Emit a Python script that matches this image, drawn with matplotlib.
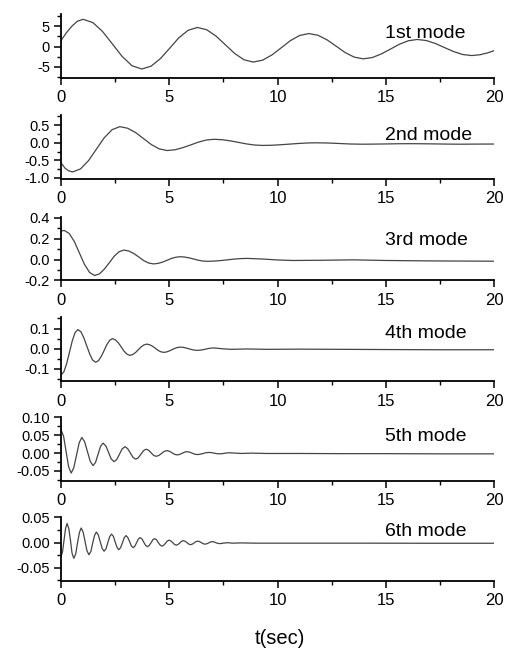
import matplotlib
matplotlib.use("Agg")
import matplotlib.pyplot as plt
from matplotlib.ticker import MultipleLocator, FixedLocator, FixedFormatter

plt.rcParams['font.family'] = ['Liberation Sans', 'DejaVu Sans']

# ---------------- data ----------------
mode_labels = ["1st mode", "2nd mode", "3rd mode", "4th mode", "5th mode", "6th mode"]

t1 = [0, 0.25, 0.5, 0.75, 1.02, 1.47, 1.92, 2.38, 2.83, 3.28, 3.73, 4.16, 4.59, 5.02, 5.44, 5.87, 6.30,
      6.73, 7.16, 7.59, 8.02, 8.45, 8.88, 9.31, 9.74, 10.17, 10.59, 11.02, 11.45, 11.87, 12.29, 12.71,
      13.12, 13.54, 13.96, 14.38, 14.79, 15.21, 15.62, 16.04, 16.45, 16.87, 17.29, 17.71, 18.13, 18.55,
      18.97, 19.35, 19.7, 20.0]
y1 = [1.5, 3.4, 5.0, 6.2, 6.7, 5.9, 3.7, 0.6, -2.45, -4.7, -5.5, -4.8, -2.95, -0.4, 2.15, 4.0, 4.7,
      4.13, 2.58, 0.45, -1.68, -3.23, -3.8, -3.33, -2.05, -0.3, 1.45, 2.73, 3.2, 2.78, 1.65, 0.1,
      -1.45, -2.58, -3.0, -2.68, -1.81, -0.63, 0.56, 1.43, 1.75, 1.49, 0.76, -0.23, -1.21, -1.94,
      -2.2, -2.0, -1.55, -1.0]

t2 = [0, 0.18, 0.36, 0.54, 0.90, 1.27, 1.63, 1.99, 2.36, 2.72, 3.08, 3.45, 3.81, 4.17, 4.54, 4.90,
      5.26, 5.62, 5.99, 6.35, 6.71, 7.07, 7.44, 7.81, 8.19, 8.56, 8.93, 9.30, 9.72, 10.13, 10.55,
      10.97, 11.38, 11.80, 12.35, 12.85, 13.35, 13.9, 14.5, 15.05, 15.6, 16.2, 16.75, 17.3, 17.85,
      18.4, 19.2, 20.0]
y2 = [-0.57, -0.72, -0.80, -0.83, -0.744, -0.508, -0.185, 0.138, 0.374, 0.46, 0.414, 0.29, 0.12,
      -0.05, -0.174, -0.22, -0.199, -0.14, -0.06, 0.02, 0.079, 0.10, 0.088, 0.056, 0.0125, -0.031,
      -0.063, -0.075, -0.07, -0.056, -0.0375, -0.019, -0.005, 0.0, -0.006, -0.02, -0.034, -0.04,
      -0.037, -0.032, -0.027, -0.025, -0.028, -0.032, -0.037, -0.04, -0.037, -0.035]

t3 = [0, 0.15, 0.38, 0.62, 0.85, 1.08, 1.32, 1.55, 1.78, 2.00, 2.23, 2.45, 2.68, 2.90, 3.13, 3.36,
      3.59, 3.81, 4.04, 4.27, 4.48, 4.68, 4.89, 5.09, 5.30, 5.50, 5.71, 5.92, 6.13, 6.33, 6.54, 6.75,
      7.06, 7.37, 7.68, 7.98, 8.29, 8.60, 9.3, 10.0, 10.7, 12.0, 13.5, 15.0, 17.0, 20.0]
y3 = [0.275, 0.28, 0.251, 0.172, 0.064, -0.044, -0.123, -0.152, -0.136, -0.091, -0.03, 0.031, 0.076,
      0.092, 0.083, 0.059, 0.026, -0.008, -0.032, -0.041, -0.036, -0.024, -0.007, 0.011, 0.023,
      0.028, 0.025, 0.017, 0.006, -0.005, -0.013, -0.016, -0.014, -0.009, -0.002, 0.005, 0.010,
      0.012, 0.006, -0.003, -0.008, -0.006, -0.002, -0.008, -0.012, -0.015]

t4 = [0, 0.13, 0.26, 0.39, 0.52, 0.65, 0.78, 0.92, 1.05, 1.19, 1.33, 1.46, 1.60, 1.73, 1.86, 1.99,
      2.12, 2.25, 2.38, 2.51, 2.65, 2.78, 2.91, 3.05, 3.18, 3.31, 3.44, 3.57, 3.70, 3.83, 3.96, 4.09,
      4.22, 4.35, 4.48, 4.61, 4.74, 4.87, 4.99, 5.12, 5.25, 5.37, 5.50, 5.63, 5.77, 5.90, 6.03, 6.17,
      6.30, 6.43, 6.55, 6.68, 6.80, 6.93, 7.05, 7.45, 7.85, 8.6, 9.5, 11.0, 13.0, 15.0, 17.5, 20.0]
y4 = [-0.13, -0.115, -0.074, -0.018, 0.039, 0.080, 0.095, 0.084, 0.055, 0.014, -0.027, -0.056,
      -0.067, -0.059, -0.038, -0.009, 0.021, 0.042, 0.050, 0.044, 0.029, 0.009, -0.012, -0.027,
      -0.033, -0.029, -0.019, -0.005, 0.009, 0.019, 0.023, 0.020, 0.013, 0.003, -0.008, -0.015,
      -0.018, -0.016, -0.0115, -0.005, 0.0015, 0.006, 0.008, 0.007, 0.004, 0.0, -0.004, -0.007,
      -0.008, -0.007, -0.005, -0.002, 0.001, 0.003, 0.004, 0.0, -0.003, -0.001, -0.003, -0.002,
      -0.003, -0.004, -0.005, -0.005]

t5 = [0, 0.12, 0.235, 0.35, 0.47, 0.59, 0.715, 0.84, 0.96, 1.09, 1.22, 1.35, 1.48, 1.595, 1.71,
      1.825, 1.94, 2.07, 2.195, 2.32, 2.45, 2.575, 2.70, 2.825, 2.95, 3.075, 3.20, 3.325, 3.45, 3.57,
      3.69, 3.81, 3.93, 4.045, 4.16, 4.275, 4.39, 4.515, 4.64, 4.765, 4.89, 5.01, 5.125, 5.24, 5.36,
      5.475, 5.59, 5.705, 5.82, 5.94, 6.055, 6.17, 6.29, 6.425, 6.56, 6.695, 6.83, 6.95, 7.065, 7.18,
      7.3, 7.425, 7.55, 7.675, 7.8, 8.3, 8.8, 9.5, 11.0, 13.0, 15.0, 17.5, 20.0]
y5 = [0.065, 0.047, 0.0045, -0.038, -0.056, -0.041, -0.006, 0.029, 0.044, 0.032, 0.0045, -0.023,
      -0.035, -0.026, -0.0035, 0.019, 0.028, 0.0204, 0.002, -0.0164, -0.024, -0.0178, -0.003, 0.0118,
      0.018, 0.0129, 0.0005, -0.0119, -0.017, -0.0129, -0.003, 0.0069, 0.011, 0.0081, 0.001, -0.0061,
      -0.009, -0.0067, -0.001, 0.0047, 0.007, 0.0052, 0.001, -0.0032, -0.005, -0.0037, -0.0005,
      0.0027, 0.004, 0.0028, 0.0, -0.0028, -0.004, -0.0031, -0.001, 0.0011, 0.002, 0.0014, 0.0,
      -0.0014, -0.002, -0.0016, -0.0005, 0.0006, 0.001, -0.001, 0.0, -0.001, -0.001, -0.0015,
      -0.0015, -0.002, -0.002]

t6 = [0, 0.07, 0.14, 0.21, 0.28, 0.36, 0.44, 0.51, 0.59, 0.68, 0.76, 0.85, 0.93, 1.02, 1.11, 1.20,
      1.29, 1.38, 1.46, 1.55, 1.63, 1.72, 1.81, 1.90, 1.99, 2.08, 2.16, 2.25, 2.33, 2.42, 2.50, 2.59,
      2.67, 2.75, 2.84, 2.92, 3.00, 3.08, 3.17, 3.25, 3.33, 3.41, 3.49, 3.57, 3.65, 3.74, 3.82, 3.91,
      3.99, 4.07, 4.16, 4.24, 4.32, 4.41, 4.49, 4.58, 4.66, 4.74, 4.83, 4.91, 4.99, 5.07, 5.16, 5.24,
      5.32, 5.40, 5.49, 5.57, 5.65, 5.73, 5.82, 5.90, 5.98, 6.06, 6.15, 6.23, 6.31, 6.40, 6.48, 6.57,
      6.65, 6.73, 6.82, 6.90, 6.98, 7.07, 7.15, 7.24, 7.32, 7.5, 7.7, 7.9, 8.3, 9.0, 11.0, 14.0,
      17.0, 20.0]
y6 = [-0.028, -0.018, 0.005, 0.028, 0.038, 0.028, 0.0035, -0.021, -0.031, -0.0222, -0.001, 0.0202,
      0.029, 0.0212, 0.0025, -0.0162, -0.024, -0.0174, -0.0015, 0.0144, 0.021, 0.0154, 0.002,
      -0.0114, -0.017, -0.012, 0.0, 0.012, 0.017, 0.0125, 0.0015, -0.0095, -0.014, -0.0099, 0.0,
      0.0099, 0.014, 0.0105, 0.002, -0.0065, -0.010, -0.0071, 0.0, 0.0071, 0.010, 0.0074, 0.001,
      -0.0054, -0.008, -0.0057, 0.0, 0.0057, 0.008, 0.0058, 0.0005, -0.0048, -0.007, -0.0052, -0.001,
      0.0032, 0.005, 0.0035, 0.0, -0.0035, -0.005, -0.0037, -0.0005, 0.0027, 0.004, 0.0028, 0.0,
      -0.0028, -0.004, -0.003, -0.0005, 0.002, 0.003, 0.0021, 0.0, -0.0021, -0.003, -0.0023, -0.0005,
      0.0013, 0.002, 0.0014, 0.0, -0.0014, -0.002, -0.001, 0.0, -0.001, -0.0005, -0.001, -0.001,
      -0.001, -0.0012, -0.0012]

times = [t1, t2, t3, t4, t5, t6]
values = [y1, y2, y3, y4, y5, y6]

x_ticks = [0, 5, 10, 15, 20]
y_ticks = [[-5, 0, 5], [-1.0, -0.5, 0.0, 0.5], [-0.2, 0.0, 0.2, 0.4], [-0.1, 0.0, 0.1],
           [-0.05, 0.00, 0.05, 0.10], [-0.05, 0.00, 0.05]]
y_ticklabels = [["-5", "0", "5"], ["-1.0", "-0.5", "0.0", "0.5"], ["-0.2", "0.0", "0.2", "0.4"],
                ["-0.1", "0.0", "0.1"], ["-0.05", "0.00", "0.05", "0.10"], ["-0.05", "0.00", "0.05"]]
y_minor = [2.5, 0.25, 0.1, 0.05, 0.025, 0.025]
y_limits = [(-7.7, 7.9), (-1.03, 0.78), (-0.2, 0.41), (-0.16, 0.155), (-0.078, 0.10), (-0.076, 0.05)]
x_label = "t(sec)"

# ---------------- layout ----------------
fig = plt.figure(figsize=(5.08, 6.52), dpi=100)
left, width = 0.1201, 0.8524
bottoms = [0.8804, 0.7255, 0.5698, 0.4156, 0.2623, 0.1089]
height = 0.0975
label_y = [0.70, 0.69, 0.63, 0.74, 0.70, 0.785]

for i in range(6):
    ax = fig.add_axes([left, bottoms[i], width, height])
    ax.plot(times[i], values[i], color='#444444', lw=0.9)
    ax.set_xlim(0, 20)
    ax.set_ylim(*y_limits[i])
    for s in ['top', 'right']:
        ax.spines[s].set_visible(False)
    for s in ['left', 'bottom']:
        ax.spines[s].set_linewidth(1.3)
    ax.xaxis.set_major_locator(FixedLocator(x_ticks))
    ax.set_xticklabels([str(v) for v in x_ticks])
    ax.xaxis.set_minor_locator(MultipleLocator(2.5))
    ax.yaxis.set_major_locator(FixedLocator(y_ticks[i]))
    ax.yaxis.set_major_formatter(FixedFormatter(y_ticklabels[i]))
    ax.yaxis.set_minor_locator(MultipleLocator(y_minor[i]))
    ax.tick_params(axis='both', which='major', direction='out', length=5, width=1.1,
                   colors='black')
    ax.tick_params(axis='both', which='minor', direction='out', length=3, width=1.0)
    ax.tick_params(axis='x', which='major', labelsize=12, pad=4)
    ax.tick_params(axis='y', which='major', labelsize=10.5, pad=3)
    ax.text(0.748, label_y[i], mode_labels[i], transform=ax.transAxes, fontsize=14,
            ha='left', va='center')

fig.text(0.551, 0.021, x_label, fontsize=14.5, ha='center', va='center')

fig.savefig("out.png", dpi=100)
